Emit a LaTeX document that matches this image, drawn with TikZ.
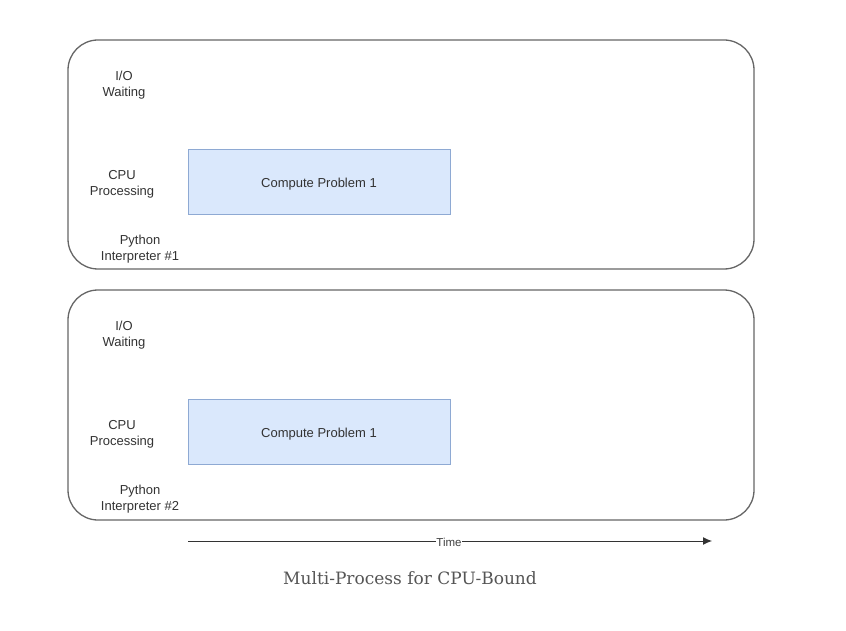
\documentclass[tikz,border=0pt]{standalone}
\usepackage{fontspec}
\setmainfont{Liberation Sans}
\newfontfamily\capfont{DejaVu Serif}
\usetikzlibrary{arrows.meta}
\definecolor{boxline}{HTML}{666666}
\definecolor{taskfill}{HTML}{DAE8FC}
\definecolor{taskline}{HTML}{8EA9D3}
\definecolor{captxt}{HTML}{555555}
\tikzset{
  lane/.style={draw=boxline, line width=1.3pt, rounded corners=30pt},
  task/.style={draw=taskline, fill=taskfill, line width=0.8pt},
  lbl/.style={align=center, font=\fontsize{13}{16}\selectfont, text=black!80, inner sep=0pt},
}
\begin{document}
\begin{tikzpicture}[x=1pt,y=-1pt]
\useasboundingbox (0,0) rectangle (846,631);
\fill[white] (0,0) rectangle (846,631);
% lane 1
\draw[lane] (68,40) rectangle (754,269);
\node[task] (t1) at (319,181.5) [minimum width=262pt, minimum height=65pt] {};
\node[lbl] (t1l) at (319,184) {Compute Problem 1};
\node[lbl] (io1) at (124,85) {I/O\\Waiting};
\node[lbl] (cpu1) at (122,184) {CPU\\Processing};
\node[lbl] (py1) at (140,249) {Python\\Interpreter \#1};
% lane 2
\draw[lane] (68,290) rectangle (754,520);
\node[task] (t2) at (319,431.5) [minimum width=262pt, minimum height=65pt] {};
\node[lbl] (t2l) at (319,434) {Compute Problem 1};
\node[lbl] (io2) at (124,335) {I/O\\Waiting};
\node[lbl] (cpu2) at (122,434) {CPU\\Processing};
\node[lbl] (py2) at (140,499) {Python\\Interpreter \#2};
% time arrow
\coordinate (ta) at (188,541);
\coordinate (tb) at (712,541);
\draw[line width=1pt, black!80, -{Latex[length=9pt,width=8pt]}] (ta) -- (tb);
\node[fill=white, inner sep=0.5pt, font=\fontsize{11.5}{12}\selectfont, text=black!75] (time) at (449,542) {Time};
\node[font=\capfont\fontsize{17}{19}\selectfont, text=captxt] (cap) at (410,578) {Multi-Process for CPU-Bound};
\end{tikzpicture}
\end{document}
